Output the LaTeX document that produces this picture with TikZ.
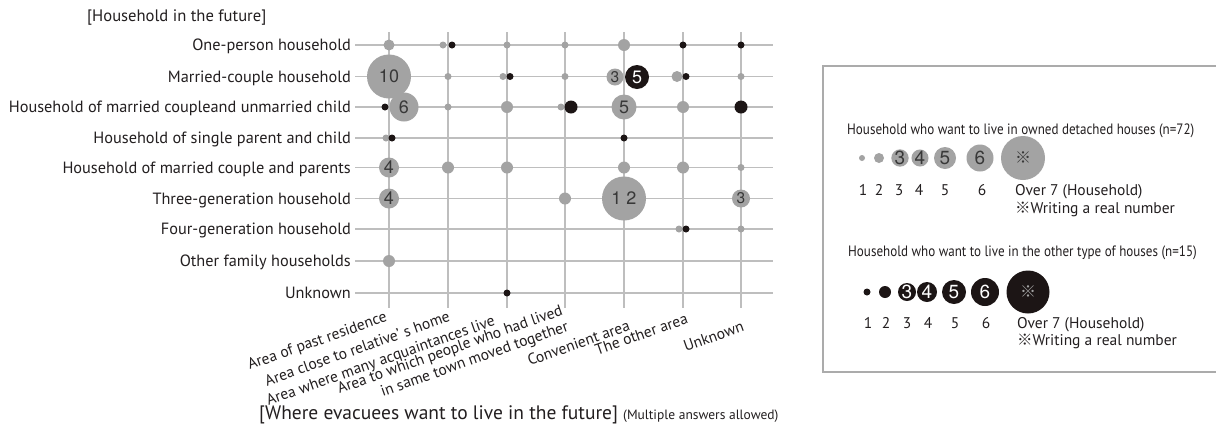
\documentclass[tikz,border=0pt]{standalone}
\usepackage{fontspec}
\setmainfont{PT Sans}
\newfontfamily\numfont{TeX Gyre Heros}
\newfontfamily\cjk{Noto Sans CJK JP}
\newfontfamily\condfont[FakeStretch=0.87]{PT Sans}
\definecolor{bgray}{HTML}{A3A3A3}
\definecolor{bblack}{HTML}{1C1515}
\definecolor{gridc}{HTML}{BEBEBE}
\definecolor{txt}{HTML}{231F20}
\definecolor{numg}{HTML}{383838}
\definecolor{boxc}{HTML}{ABABAB}
\begin{document}
\begin{tikzpicture}[x=1pt,y=-1pt,
  gridline/.style={draw=gridc, line width=1.3pt},
  bub/.style={circle, inner sep=0pt, outer sep=0pt, draw=none},
  gb/.style={bub, fill=bgray, minimum size=#1, text=numg, font=\numfont\fontsize{18}{18}\selectfont},
  bb/.style={bub, fill=bblack, minimum size=#1, text=white, font=\numfont\fontsize{18}{18}\selectfont},
  smalldig/.style={font=\numfont\fontsize{15.5}{16}\selectfont},
  rowlab/.style={anchor=base east, inner sep=0pt, text=txt, font=\fontsize{16.3}{18}\selectfont},
  collab/.style={anchor=base east, inner sep=0pt, rotate=19.5, text=txt, font=\fontsize{15.5}{17}\selectfont},
  legtitle/.style={anchor=base west, inner sep=0pt, text=txt, font=\condfont\fontsize{15}{17}\selectfont},
  legnum/.style={anchor=base, inner sep=0pt, text=txt, font=\fontsize{15.5}{17}\selectfont},
  legtxt/.style={anchor=base west, inner sep=0pt, text=txt, font=\fontsize{15.5}{17}\selectfont},
  legdig/.style={font=\numfont\fontsize{19}{19}\selectfont},
  star/.style={font=\cjk\fontsize{16}{16}\selectfont},
]
\useasboundingbox (0,0) rectangle (1216,432);
\fill[white] (0,0) rectangle (1216,432);

% grid
\foreach \y in {45,76.5,107,138,167.5,198.5,229,261,293}
  \draw[gridline] (355,\y) -- (773,\y);
\foreach \x in {389,448,507,565,624,683,741}
  \draw[gridline] (\x,32) -- (\x,308);

% titles
\node[anchor=base west, inner sep=0pt, text=txt, font=\fontsize{16.6}{18}\selectfont] (ttop) at (87,21) {[Household in the future]};
\node[anchor=base west, inner sep=0pt, text=txt, font=\fontsize{19.5}{20}\selectfont] (tbot) at (259,419)
  {[Where evacuees want to live in the future] {\fontsize{13.5}{14}\selectfont(Multiple answers allowed)}};

% row labels
\node[rowlab] (r1) at (351,50.5) {One-person household};
\node[rowlab] (r2) at (351,82) {Married-couple household};
\node[rowlab] (r3) at (351,112.5) {Household of married coupleand unmarried child};
\node[rowlab] (r4) at (351,143.5) {Household of single parent and child};
\node[rowlab] (r5) at (351,173) {Household of married couple and parents};
\node[rowlab] (r6) at (351,204) {Three-generation household};
\node[rowlab] (r7) at (351,234.5) {Four-generation household};
\node[rowlab] (r8) at (351,266.5) {Other family households};
\node[rowlab] (r9) at (351,298.5) {Unknown};

% column labels
\node[collab] (c1) at (388,321) {Area of past residence};
\node[collab] (c2) at (451,321) {Area close to relative’ s home};
\node[collab] (c3) at (496,325) {Area where many acquaintances live};
\node[collab, anchor=north east, align=right] (c4) at (560,304) {Area to which people who had lived\\in same town moved together};
\node[collab] (c5) at (631,330) {Convenient area};
\node[collab] (c6) at (689,323) {The other area};
\node[collab] (c7) at (745,331) {Unknown};

% gray bubbles
\node[gb=11pt] (a1) at (389,45) {};
\node[gb=7pt] (a2g) at (443,45) {};
\node[gb=7pt] (a3) at (507,45) {};
\node[gb=7pt] (a4) at (565,45) {};
\node[gb=12pt] (a5) at (624,45) {};
\node[gb=44pt] (b1) at (389,76.5) {10};
\node[gb=7pt] (b2) at (448,76.5) {};
\node[gb=7pt] (b3g) at (503,76.5) {};
\node[gb=7pt] (b4) at (565,76.5) {};
\node[gb=17pt, smalldig] (b5g) at (615,77) {3};
\node[gb=11pt] (b6g) at (677,76.5) {};
\node[gb=7pt] (b7) at (741,76.5) {};
\node[gb=29pt] (c1g) at (404,107) {6};
\node[gb=7pt] (c2g) at (448,107) {};
\node[gb=12pt] (c3g) at (507,107) {};
\node[gb=7pt] (c4g) at (561,107) {};
\node[gb=25pt] (c5g) at (624,107) {5};
\node[gb=12pt] (c6g) at (683,107) {};
\node[gb=7pt] (d1g) at (386,138) {};
\node[gb=20pt] (e1) at (389,167.5) {4};
\node[gb=12pt] (e2) at (448,167.5) {};
\node[gb=12pt] (e3) at (507,167.5) {};
\node[gb=12pt] (e5) at (624,167.5) {};
\node[gb=12pt] (e6) at (683,167.5) {};
\node[gb=7pt] (e7) at (741,167.5) {};
\node[gb=20pt] (f1) at (389,198.5) {4};
\node[gb=12pt] (f4) at (565,198.5) {};
\node[gb=44pt] (f5) at (624,198.5) {1 2};
\node[gb=18pt, smalldig] (f7) at (741,198.5) {3};
\node[gb=7pt] (g6g) at (679,229) {};
\node[gb=7pt] (g7) at (741,229) {};
\node[gb=12pt] (h1) at (389,261) {};

% black bubbles
\node[bb=7pt] (a2b) at (452,45) {};
\node[bb=7pt] (a6) at (683,45) {};
\node[bb=7pt] (a7) at (741,45) {};
\node[bb=7pt] (b3b) at (510,76.5) {};
\node[bb=24pt] (b5b) at (637,77) {5};
\node[bb=7pt] (b6b) at (686,76.5) {};
\node[bb=7pt] (c1b) at (385,107) {};
\node[bb=13pt] (c4b) at (571,107) {};
\node[bb=13pt] (c7b) at (741,107) {};
\node[bb=7pt] (d1b) at (392,138) {};
\node[bb=7pt] (d5) at (624,138) {};
\node[bb=7pt] (g6b) at (686,229) {};
\node[bb=7pt] (i3) at (507,293) {};

% legend box
\draw[draw=boxc, line width=1.3pt] (823,66) rectangle (1226,372);

% legend 1
\node[legtitle] (lt1) at (847,134) {Household who want to live in owned detached houses (n=72)};
\node[gb=6pt] (lg1) at (862,158) {};
\node[gb=10pt] (lg2) at (879,158) {};
\node[gb=16pt, legdig] (lg3) at (900,158) {3};
\node[gb=17pt, legdig] (lg4) at (920,158) {4};
\node[gb=22pt, legdig] (lg5) at (945,158) {5};
\node[gb=27pt, legdig] (lg6) at (980,158) {6};
\node[gb=44pt, text=numg, star] (lg7) at (1023,158) {※};
\node[legnum] (ln1) at (863,195) {1};
\node[legnum] (ln2) at (879,195) {2};
\node[legnum] (ln3) at (899,195) {3};
\node[legnum] (ln4) at (919,195) {4};
\node[legnum] (ln5) at (945,195) {5};
\node[legnum] (ln6) at (982,195) {6};
\node[legtxt] (lo1) at (1015,195) {Over 7 (Household)};
\node[legtxt] (lw1) at (1015,213) {{\cjk ※}Writing a real number};

% legend 2
\node[legtitle] (lt2) at (848,256) {Household who want to live in the other type of houses (n=15)};
\node[bb=7pt] (lb1) at (867,292) {};
\node[bb=12pt] (lb2) at (885,292) {};
\node[bb=18pt, legdig] (lb3) at (907,292) {3};
\node[bb=20pt, legdig] (lb4) at (927,292) {4};
\node[bb=24pt, legdig] (lb5) at (954,292) {5};
\node[bb=28pt, legdig] (lb6) at (985,292) {6};
\node[bb=43pt, text=bgray, star] (lb7) at (1028,292) {※};
\node[legnum] (lm1) at (868,328) {1};
\node[legnum] (lm2) at (886,328) {2};
\node[legnum] (lm3) at (907,328) {3};
\node[legnum] (lm4) at (928,328) {4};
\node[legnum] (lm5) at (955,328) {5};
\node[legnum] (lm6) at (986,328) {6};
\node[legtxt] (lo2) at (1017,328) {Over 7 (Household)};
\node[legtxt] (lw2) at (1017,345) {{\cjk ※}Writing a real number};
\end{tikzpicture}
\end{document}
